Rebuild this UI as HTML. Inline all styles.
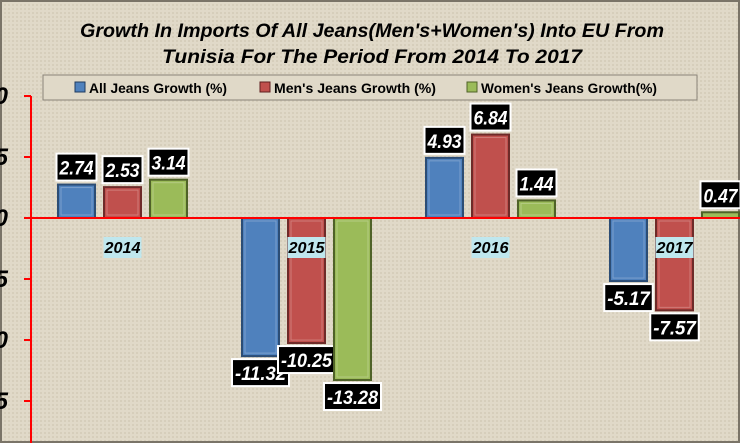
<!DOCTYPE html>
<html><head><meta charset="utf-8"><style>
body{margin:0;width:740px;height:443px;overflow:hidden;background:#e2dccd;font-family:"Liberation Sans",sans-serif}
svg{display:block}
</style></head><body>
<svg width="740" height="443">
<defs>
<pattern id="tex" width="4" height="4" patternUnits="userSpaceOnUse"><rect width="4" height="4" fill="#e0d9c8"/><rect width="2" height="2" fill="#d6cebb"/></pattern>
</defs>
<rect width="740" height="443" fill="url(#tex)"/>
<rect x="1" y="1" width="738" height="441" fill="none" stroke="#7a7468" stroke-width="2"/>
<text x="372" y="37" text-anchor="middle" font-size="19" font-weight="bold" font-style="italic" textLength="584" lengthAdjust="spacingAndGlyphs">Growth In Imports Of All Jeans(Men's+Women's) Into EU From</text>
<text x="372" y="63" text-anchor="middle" font-size="19" font-weight="bold" font-style="italic" textLength="420" lengthAdjust="spacingAndGlyphs">Tunisia For The Period From 2014 To 2017</text>
<g>
<rect x="43" y="75" width="654" height="25" fill="#e0d9c8" stroke="#8a8478"/>
<rect x="75" y="82" width="10" height="10" fill="#4f81bd" stroke="#1f3a5f"/><text x="89" y="93" font-size="14" font-weight="bold" textLength="138" lengthAdjust="spacingAndGlyphs">All Jeans  Growth (%)</text>
<rect x="260" y="82" width="10" height="10" fill="#c0504d" stroke="#5f1f1f"/><text x="274" y="93" font-size="14" font-weight="bold" textLength="162" lengthAdjust="spacingAndGlyphs">Men's Jeans  Growth (%)</text>
<rect x="467" y="82" width="10" height="10" fill="#9bbb59" stroke="#4f6228"/><text x="481" y="93" font-size="14" font-weight="bold" textLength="176" lengthAdjust="spacingAndGlyphs">Women's Jeans  Growth(%)</text>
</g>
<g id="axis"></g>
<g id="bars"></g>
</svg>
<script>
const categories=["2014","2015","2016","2017"];
const allJeans=[2.74,-11.32,4.93,-5.17];
const mensJeans=[2.53,-10.25,6.84,-7.57];
const womensJeans=[3.14,-13.28,1.44,0.47];
const yTicks=[10,5,0,-5,-10,-15];
const NS="http://www.w3.org/2000/svg";
function y(v){return 218-v*12.2;}
function mk(t,a,p){const e=document.createElementNS(NS,t);for(const k in a)e.setAttribute(k,a[k]);p.appendChild(e);return e;}
const ax=document.getElementById('axis'),bg=document.getElementById('bars');
yTicks.forEach(v=>{
 const l=mk('line',{x1:24,x2:31,y1:y(v),y2:y(v),stroke:'#ff0000','stroke-width':2},ax);
 
 
 const t=mk('text',{x:8,y:y(v)+8,'text-anchor':'end','font-size':24,'font-weight':'bold','font-style':'italic'},ax);
 t.textContent=String(Math.abs(v)%10===0?0:5);
 
 
});
const ya=mk('line',{x1:31,x2:31,y1:y(10),y2:443,stroke:'#ff0000','stroke-width':2},ax);


const series=[[allJeans,'#4f81bd','#2c4d75','blue'],[mensJeans,'#c0504d','#6e2b29','red'],[womensJeans,'#9bbb59','#4f6228','green']];
categories.forEach((c,i)=>{
 const gx=58+i*184;
 series.forEach((s,j)=>{
  const v=s[0][i],x=gx+j*46,y0=y(0),y1=y(v),top=Math.min(y0,y1),h=Math.abs(y1-y0);
  const r=mk('rect',{x:x,y:top,width:37,height:Math.max(h,1),fill:s[1],stroke:s[2],'stroke-width':2},bg);
  
  
  mk('rect',{x:x+3,y:top+3,width:31,height:Math.max(h-6,0),fill:'none',stroke:'rgba(255,255,255,0.25)','stroke-width':1},bg);
  const txt=v.toFixed(2);
  const tw=txt.length*8.5;
  const w=tw+6;
  const ly=v>=0?top-31:top+h+3;
  const g=mk('g',{},bg);
  
  
  mk('rect',{x:x+18.5-w/2,y:ly,width:w,height:27,fill:'#000',stroke:'#fff','stroke-width':2},g);
  const t=mk('text',{x:x+18.5,y:ly+21,'text-anchor':'middle','font-size':19,'font-weight':'bold','font-style':'italic',fill:'#fff',textLength:tw,lengthAdjust:'spacingAndGlyphs'},g);
  t.textContent=txt;
 });
 const cx=gx+64.5;
 const cr=mk('rect',{x:cx-19,y:237,width:38,height:21,fill:'#bfe7ee'},bg);
 
 
 const ct=mk('text',{x:cx,y:253,'text-anchor':'middle','font-size':16,'font-weight':'bold','font-style':'italic',textLength:36,lengthAdjust:'spacingAndGlyphs'},bg);
 ct.textContent=c;
 
 
});
const zl=mk('line',{x1:24,x2:740,y1:y(0),y2:y(0),stroke:'#ff0000','stroke-width':2},bg);


</script>
</body></html>
